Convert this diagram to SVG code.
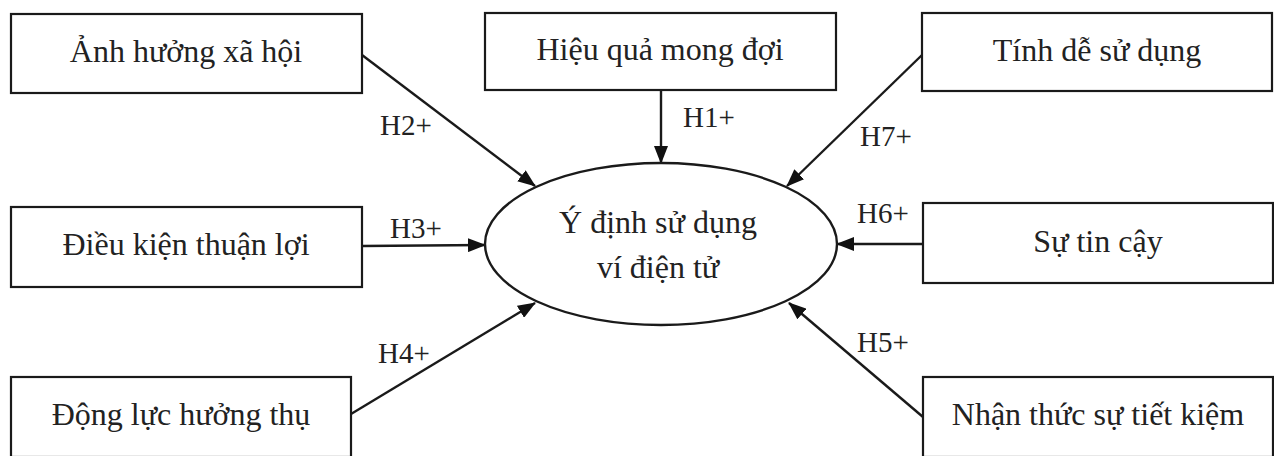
<svg xmlns="http://www.w3.org/2000/svg" width="1274" height="456" viewBox="0 0 1274 456">
<style>
.box{fill:#fff;stroke:#1a1a1a;stroke-width:2.2}
.t{font-family:"Liberation Serif","Times New Roman",serif;font-size:32px;fill:#222;text-anchor:middle}
.l{font-family:"Liberation Serif","Times New Roman",serif;font-size:29px;fill:#222}
.c{stroke:#1a1a1a;stroke-width:2.4;fill:none;marker-end:url(#ah)}
</style>
<defs>
<marker id="ah" markerUnits="userSpaceOnUse" markerWidth="18" markerHeight="14" refX="17" refY="7" orient="auto">
<path d="M0,0 L18,7 L0,14 Z" fill="#111"/>
</marker>
</defs>
<rect width="1274" height="456" fill="#fff"/>
<g id="connectors">
<line class="c" x1="661" y1="90" x2="661" y2="163"/>
<line class="c" x1="362" y1="55" x2="535" y2="186"/>
<line class="c" x1="922" y1="55" x2="787" y2="186"/>
<line class="c" x1="362" y1="246" x2="485" y2="245"/>
<line class="c" x1="923" y1="244" x2="837" y2="244"/>
<line class="c" x1="351" y1="414" x2="535" y2="303"/>
<line class="c" x1="923" y1="417" x2="789" y2="303"/>
<text class="l" x="683" y="127">H1+</text>
<text class="l" x="380" y="135">H2+</text>
<text class="l" x="860" y="146">H7+</text>
<text class="l" x="390" y="238">H3+</text>
<text class="l" x="857" y="223">H6+</text>
<text class="l" x="378" y="363">H4+</text>
<text class="l" x="857" y="352">H5+</text>
</g>
<g id="n_anh_huong"><rect class="box" x="11" y="14" width="351" height="79"/><text class="t" x="186" y="62">Ảnh hưởng xã hội</text></g>
<g id="n_hieu_qua"><rect class="box" x="485" y="13" width="351" height="77"/><text class="t" x="660" y="60">Hiệu quả mong đợi</text></g>
<g id="n_tinh_de"><rect class="box" x="922" y="13" width="350" height="78"/><text class="t" x="1097" y="61">Tính dễ sử dụng</text></g>
<g id="n_dieu_kien"><rect class="box" x="11" y="207" width="351" height="80"/><text class="t" x="186" y="255">Điều kiện thuận lợi</text></g>
<g id="n_su_tin_cay"><rect class="box" x="923" y="203" width="350" height="80"/><text class="t" x="1098" y="252">Sự tin cậy</text></g>
<g id="n_dong_luc"><rect class="box" x="11" y="377" width="340" height="80"/><text class="t" x="181" y="425">Động lực hưởng thụ</text></g>
<g id="n_nhan_thuc"><rect class="box" x="923" y="377" width="350" height="80"/><text class="t" x="1098" y="425">Nhận thức sự tiết kiệm</text></g>
<g id="n_y_dinh"><ellipse cx="661" cy="244" rx="176" ry="81" fill="#fff" stroke="#1a1a1a" stroke-width="2.4"/><text class="t" x="658" y="233">Ý định sử dụng</text><text class="t" x="658" y="278">ví điện tử</text></g>
</svg>
